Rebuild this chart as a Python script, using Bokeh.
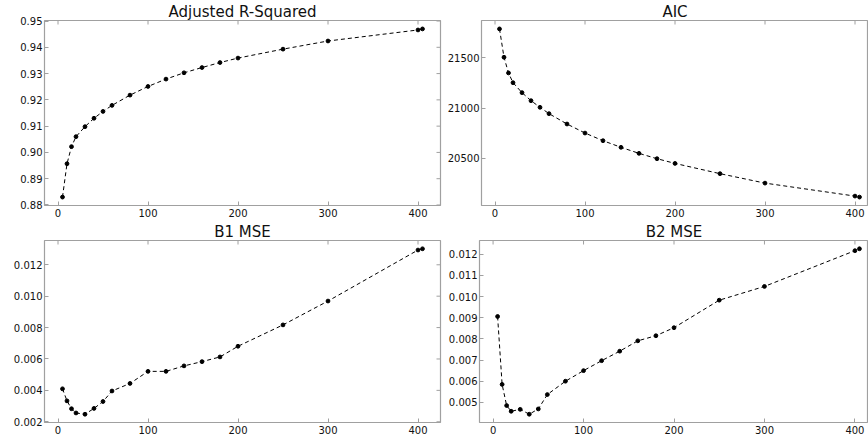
import math
from bokeh.plotting import figure
from bokeh.layouts import row, column
from bokeh.models import Range1d, FixedTicker, PrintfTickFormatter, Title
from bokeh.embed import file_html
from bokeh.resources import INLINE

# ---- data ----
n_vars = [5, 10, 15, 20, 30, 40, 50, 60, 80, 100, 120, 140, 160, 180, 200, 250, 300, 400, 405]

adj_r2 = [0.8830, 0.8957, 0.9022, 0.9060, 0.9098, 0.9130, 0.9156, 0.9179, 0.9218, 0.9251,
          0.9279, 0.9303, 0.9323, 0.9342, 0.9359, 0.9393, 0.9424, 0.9466, 0.9470]

aic = [21789, 21507, 21351, 21254, 21155, 21075, 21009, 20946, 20843, 20753,
       20677, 20611, 20551, 20498, 20451, 20349, 20255, 20126, 20116]

b1_mse = [0.00410, 0.00333, 0.00283, 0.00256, 0.00248, 0.00285, 0.00329, 0.00396, 0.00444, 0.00521,
          0.00521, 0.00556, 0.00583, 0.00613, 0.00681, 0.00817, 0.00969, 0.01294, 0.01302]

b2_mse = [0.00906, 0.00585, 0.00485, 0.00458, 0.00467, 0.00444, 0.00469, 0.00537, 0.00600, 0.00650,
          0.00697, 0.00742, 0.00791, 0.00815, 0.00853, 0.00983, 0.01048, 0.01217, 0.01226]

titles = ["Adjusted R-Squared", "AIC", "B1 MSE", "B2 MSE"]
x_ticks = [0, 100, 200, 300, 400]
r2_ticks = [0.88, 0.89, 0.90, 0.91, 0.92, 0.93, 0.94, 0.95]
aic_ticks = [20500, 21000, 21500]
b1_ticks = [0.002, 0.004, 0.006, 0.008, 0.010, 0.012]
b2_ticks = [0.005, 0.006, 0.007, 0.008, 0.009, 0.010, 0.011, 0.012]

FONT = "DejaVu Sans"
FRAME = "#a0a0a0"
X_PAD = 0.05          # fraction of the data span added on each side
RIGHT_COL_PAD = 10    # the right-hand column is cut at the page edge, a bit past the last point


def padded(vals, frac=X_PAD):
    lo, hi = min(vals), max(vals)
    s = hi - lo
    return Range1d(lo - frac * s, hi + frac * s)


def make(title, ys, yticks, yfmt, width, height, bl, br, bt, bb, cut_right=False):
    xr = padded(n_vars)
    if cut_right:
        xr.end = max(n_vars) + RIGHT_COL_PAD
    yr = padded(ys)
    p = figure(width=width, height=height, output_backend="svg", toolbar_location=None,
               x_range=xr, y_range=yr,
               min_border_left=bl, min_border_right=br, min_border_top=bt, min_border_bottom=bb)
    p.title = Title(text=title, align="center", text_font=FONT, text_font_size="15px",
                    text_font_style="normal", text_color="#111111", standoff=0)
    p.line(n_vars, ys, line_color="black", line_width=1.0, line_dash="4 3")
    p.scatter(n_vars, ys, size=3.8, fill_color="black", line_color="black")
    p.xgrid.visible = False
    p.ygrid.visible = False
    p.outline_line_color = FRAME
    p.outline_line_width = 1.2
    p.background_fill_color = "white"
    p.border_fill_color = "white"
    p.xaxis.ticker = FixedTicker(ticks=x_ticks)
    p.yaxis.ticker = FixedTicker(ticks=yticks)
    p.yaxis.formatter = yfmt
    for ax in (p.xaxis[0], p.yaxis[0]):
        ax.axis_line_color = None
        ax.major_tick_in = 4
        ax.major_tick_out = 0
        ax.major_tick_line_color = FRAME
        ax.minor_tick_line_color = None
        ax.major_label_text_font = FONT
        ax.major_label_text_font_size = "10px"
        ax.major_label_text_color = "#111111"
    p.xaxis.major_label_standoff = 3
    p.yaxis.major_label_standoff = 2
    # inward tick marks on the right and top edges (half of each dash is clipped by the frame)
    if not cut_right:
        p.scatter([xr.end] * len(yticks), yticks, marker="dash", size=8,
                  line_color=FRAME, line_width=1)
    p.scatter(x_ticks, [yr.end] * len(x_ticks), marker="dash", angle=math.pi / 2, size=8,
              line_color=FRAME, line_width=1)
    return p


p1 = make(titles[0], adj_r2, r2_ticks, PrintfTickFormatter(format="%.2f"), 444, 220, 44, 4, 20, 15)
p2 = make(titles[1], aic, aic_ticks, PrintfTickFormatter(format="%d"), 424, 220, 35, 0, 20, 15, cut_right=True)
p3 = make(titles[2], b1_mse, b1_ticks, PrintfTickFormatter(format="%.3f"), 444, 217, 44, 4, 17, 15)
p4 = make(titles[3], b2_mse, b2_ticks, PrintfTickFormatter(format="%.3f"), 424, 217, 35, 0, 17, 15, cut_right=True)

layout = column(row(p1, p2), row(p3, p4))

open("out.html", "w").write(file_html(layout, INLINE))
